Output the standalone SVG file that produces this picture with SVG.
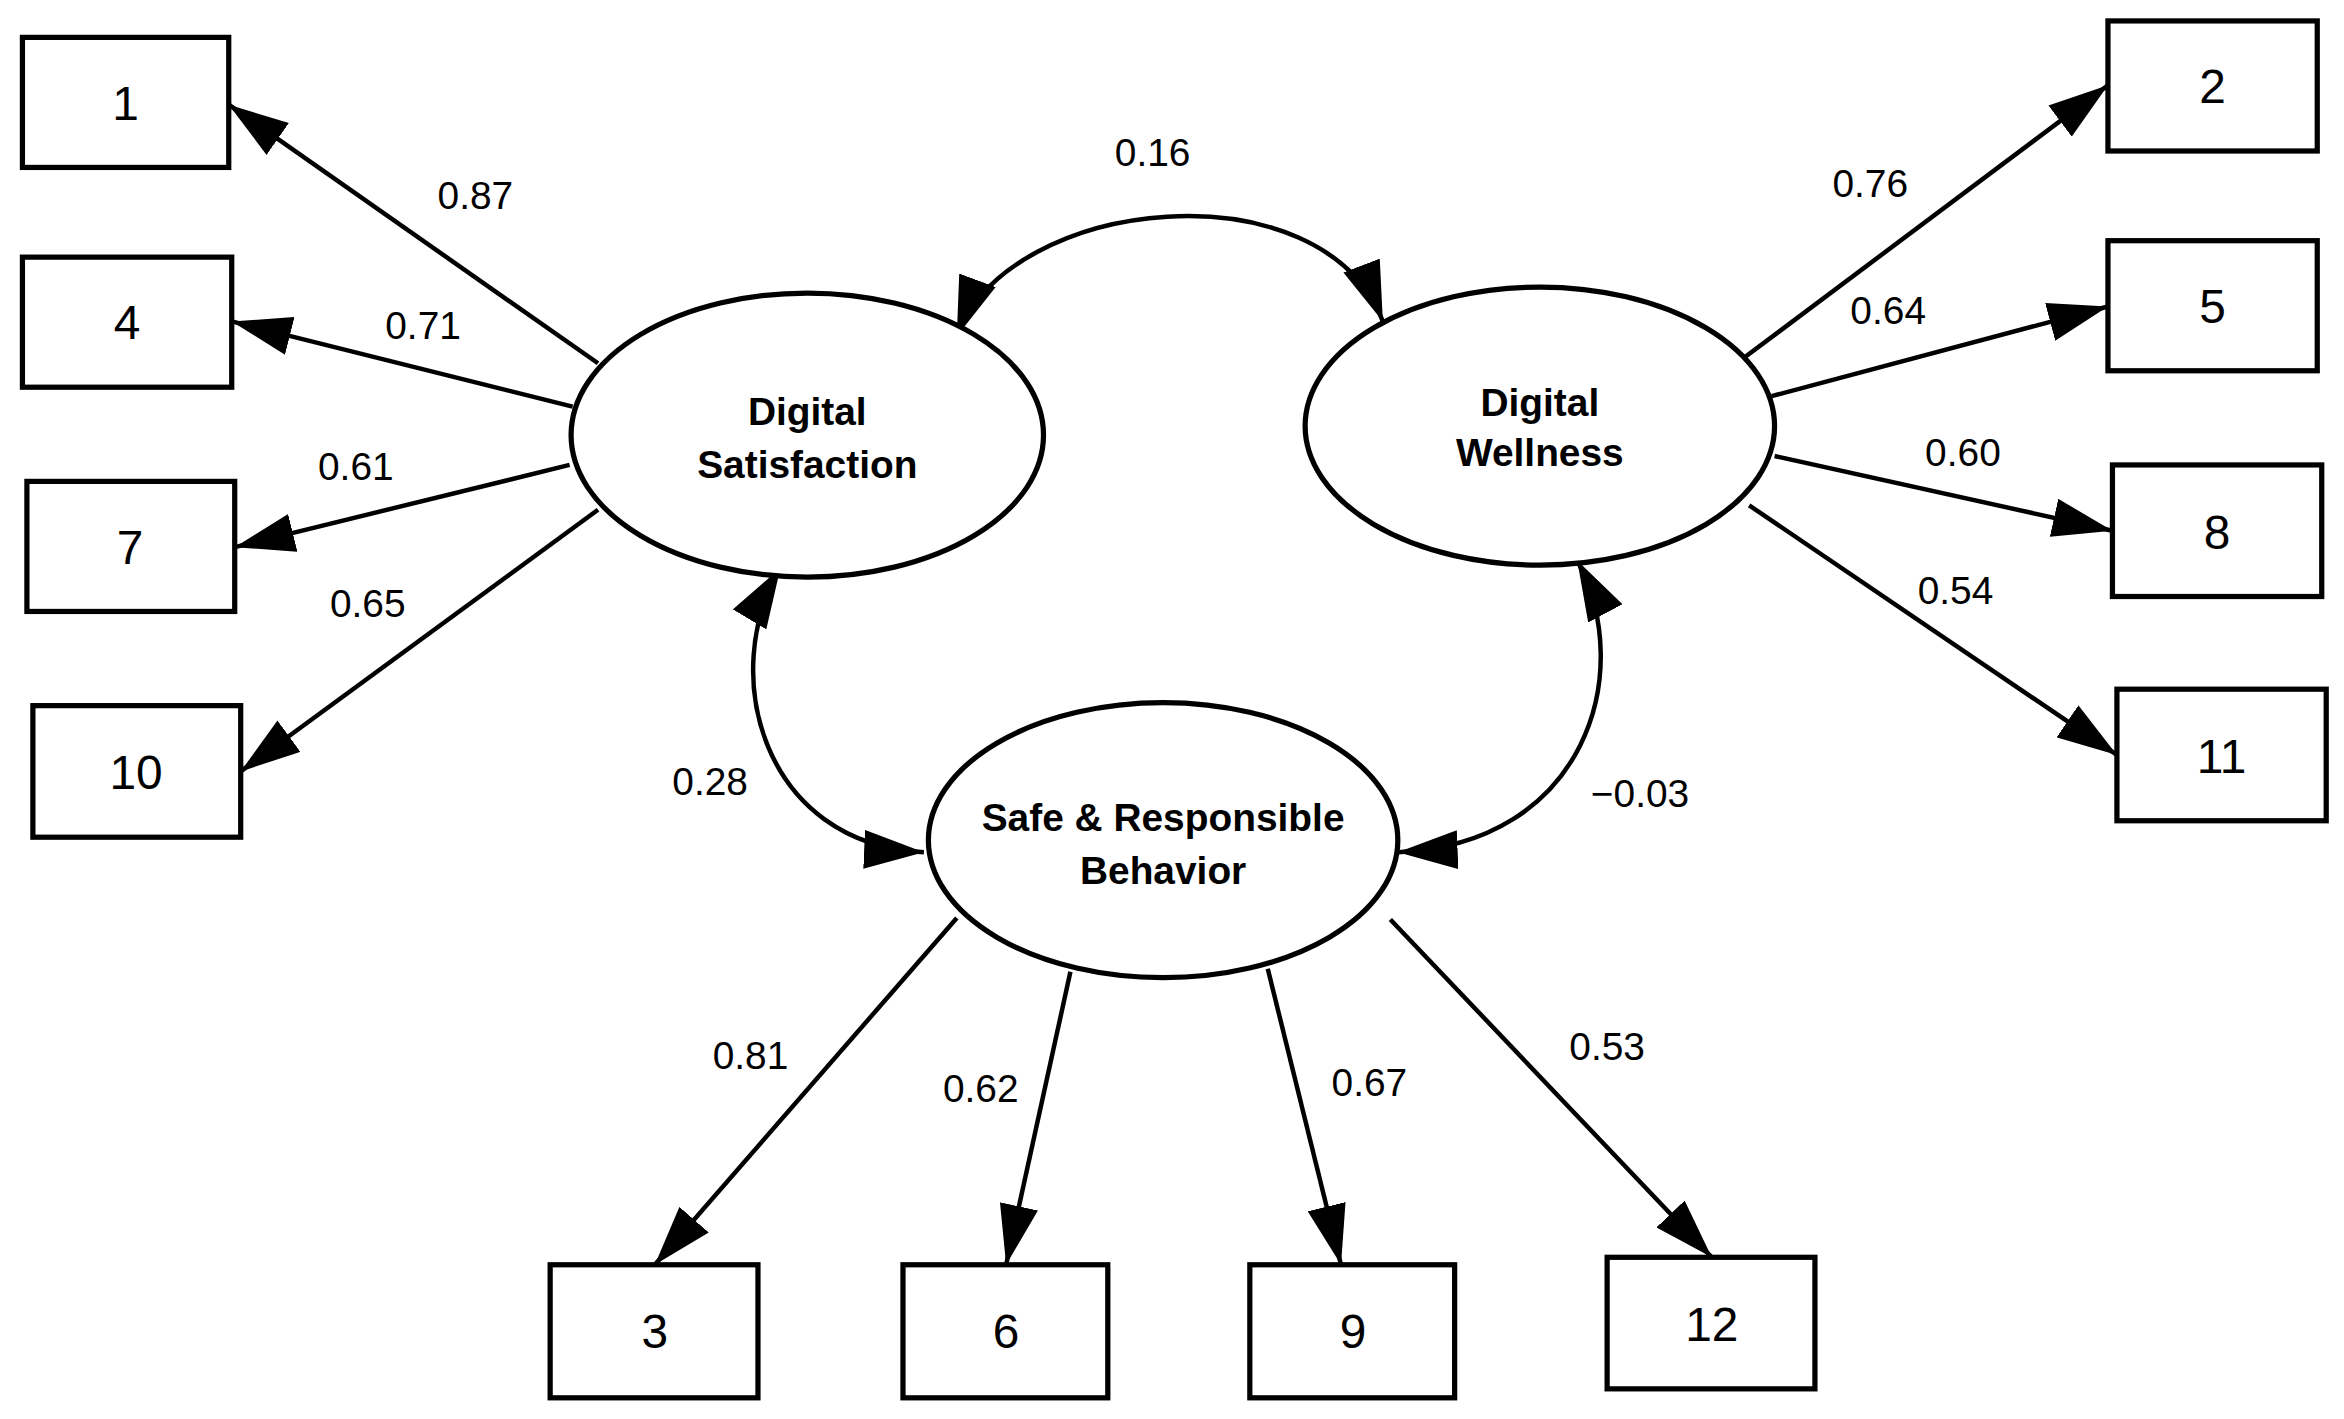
<svg xmlns="http://www.w3.org/2000/svg" width="2344" height="1419" viewBox="0 0 2344 1419">
<style>
.box{fill:#fff;stroke:#000;stroke-width:3.5}
.lat{fill:#fff;stroke:#000;stroke-width:3.5}
.c{fill:none;stroke:#000;stroke-width:3}
.n{font-family:"Liberation Sans",Arial,sans-serif;font-size:32px;text-anchor:middle;fill:#000}
.l{font-family:"Liberation Sans",Arial,sans-serif;font-size:26px;text-anchor:middle;fill:#000}
.b{font-family:"Liberation Sans",Arial,sans-serif;font-size:26px;font-weight:bold;text-anchor:middle;fill:#000}
</style>
<defs>
<marker id="ah" markerUnits="userSpaceOnUse" viewBox="0 0 40 26" refX="40" refY="13" markerWidth="40" markerHeight="26" orient="auto-start-reverse"><path d="M0,0 L40,13 L0,26 z" fill="#000"/></marker>
</defs>
<rect width="2344" height="1419" fill="#fff"/>
<g transform="scale(1.495)">
<g id="connectors">
<line class="c" x1="400" y1="243" x2="153" y2="70" marker-end="url(#ah)"/>
<line class="c" x1="383" y1="272" x2="155" y2="215" marker-end="url(#ah)"/>
<line class="c" x1="381" y1="311" x2="157" y2="366" marker-end="url(#ah)"/>
<line class="c" x1="400" y1="341" x2="161" y2="516" marker-end="url(#ah)"/>
<line class="c" x1="1167" y1="239" x2="1410" y2="57" marker-end="url(#ah)"/>
<line class="c" x1="1185" y1="265" x2="1410" y2="205" marker-end="url(#ah)"/>
<line class="c" x1="1187" y1="305" x2="1413" y2="355" marker-end="url(#ah)"/>
<line class="c" x1="1170" y1="338" x2="1416" y2="505" marker-end="url(#ah)"/>
<line class="c" x1="640" y1="614" x2="438" y2="846" marker-end="url(#ah)"/>
<line class="c" x1="716" y1="650" x2="673" y2="846" marker-end="url(#ah)"/>
<line class="c" x1="848" y1="648" x2="897" y2="846" marker-end="url(#ah)"/>
<line class="c" x1="930" y1="615" x2="1145" y2="841" marker-end="url(#ah)"/>
<path class="c" d="M640,225 C675,130 885,110 925,215" marker-start="url(#ah)" marker-end="url(#ah)"/>
<path class="c" d="M522,380 C480,450 510,565 618,570" marker-start="url(#ah)" marker-end="url(#ah)"/>
<path class="c" d="M1055,375 C1095,450 1060,565 935,570" marker-start="url(#ah)" marker-end="url(#ah)"/>
<text class="l" x="318" y="140">0.87</text>
<text class="l" x="283" y="227">0.71</text>
<text class="l" x="238" y="321">0.61</text>
<text class="l" x="246" y="413">0.65</text>
<text class="l" x="771" y="111">0.16</text>
<text class="l" x="1251" y="132">0.76</text>
<text class="l" x="1263" y="217">0.64</text>
<text class="l" x="1313" y="312">0.60</text>
<text class="l" x="1308" y="404">0.54</text>
<text class="l" x="475" y="532">0.28</text>
<text class="l" x="1097" y="540">−0.03</text>
<text class="l" x="502" y="715">0.81</text>
<text class="l" x="656" y="737">0.62</text>
<text class="l" x="916" y="733">0.67</text>
<text class="l" x="1075" y="709">0.53</text>
</g>
<g id="DS"><ellipse class="lat" cx="540" cy="291" rx="158" ry="95"/><text class="b" x="540" y="284">Digital</text><text class="b" x="540" y="320">Satisfaction</text></g>
<g id="DW"><ellipse class="lat" cx="1030" cy="285" rx="157" ry="93"/><text class="b" x="1030" y="278">Digital</text><text class="b" x="1030" y="312">Wellness</text></g>
<g id="SRB"><ellipse class="lat" cx="778" cy="562" rx="157" ry="92"/><text class="b" x="778" y="556">Safe &amp; Responsible</text><text class="b" x="778" y="591">Behavior</text></g>
<g id="n1"><rect class="box" x="15" y="25" width="138" height="87"/><text class="n" x="84" y="80">1</text></g>
<g id="n4"><rect class="box" x="15" y="172" width="140" height="87"/><text class="n" x="85" y="227">4</text></g>
<g id="n7"><rect class="box" x="18" y="322" width="139" height="87"/><text class="n" x="87" y="377">7</text></g>
<g id="n10"><rect class="box" x="22" y="472" width="139" height="88"/><text class="n" x="91" y="528">10</text></g>
<g id="n2"><rect class="box" x="1410" y="14" width="140" height="87"/><text class="n" x="1480" y="69">2</text></g>
<g id="n5"><rect class="box" x="1410" y="161" width="140" height="87"/><text class="n" x="1480" y="216">5</text></g>
<g id="n8"><rect class="box" x="1413" y="311" width="140" height="88"/><text class="n" x="1483" y="367">8</text></g>
<g id="n11"><rect class="box" x="1416" y="461" width="140" height="88"/><text class="n" x="1486" y="517">11</text></g>
<g id="n3"><rect class="box" x="368" y="846" width="139" height="89"/><text class="n" x="438" y="902">3</text></g>
<g id="n6"><rect class="box" x="604" y="846" width="137" height="89"/><text class="n" x="673" y="902">6</text></g>
<g id="n9"><rect class="box" x="836" y="846" width="137" height="89"/><text class="n" x="905" y="902">9</text></g>
<g id="n12"><rect class="box" x="1075" y="841" width="139" height="88"/><text class="n" x="1145" y="897">12</text></g>
</g>
</svg>
